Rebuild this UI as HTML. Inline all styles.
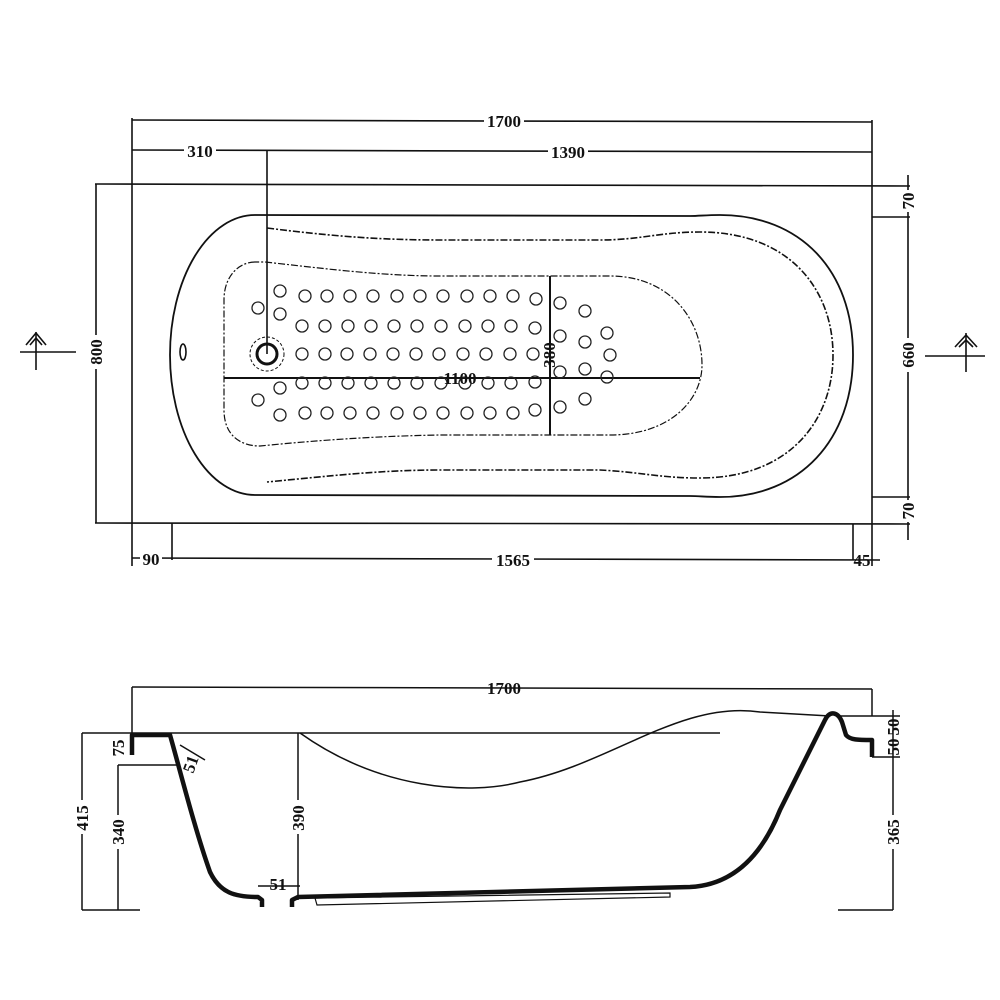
<!DOCTYPE html>
<html><head><meta charset="utf-8"><style>
html,body{margin:0;padding:0;background:#fff}
svg{display:block}
text{font-family:"Liberation Serif",serif;font-size:17px;fill:#111;font-weight:bold}
</style></head><body>
<svg width="1000" height="1000" viewBox="0 0 1000 1000" xmlns="http://www.w3.org/2000/svg">
<g fill="none" stroke="#111" stroke-width="1.6">
<!-- plan outer rect -->
<line x1="95" y1="184" x2="910" y2="186"/>
<line x1="95" y1="523" x2="910" y2="524"/>
<line x1="132" y1="118" x2="132" y2="566"/>
<line x1="872" y1="120" x2="872" y2="566"/>
<line x1="96" y1="184" x2="96" y2="523"/>
<!-- top dims -->
<line x1="132" y1="120" x2="872" y2="122"/>
<line x1="132" y1="150" x2="872" y2="152"/>
<line x1="267" y1="150" x2="267" y2="354"/>
<!-- bottom dims -->
<line x1="132" y1="558" x2="880" y2="560"/>
<line x1="172" y1="523" x2="172" y2="560"/>
<line x1="853" y1="524" x2="853" y2="560"/>
<!-- right dims -->
<line x1="908" y1="175" x2="908" y2="540"/>
<line x1="872" y1="217" x2="910" y2="217"/>
<line x1="872" y1="497" x2="910" y2="497"/>
<!-- outer tub -->
<path d="M690 216 L255 215 A85 140 0 0 0 255 495 L690 496 C700 496 705 497 720 497 C800 497 853 440 853 355 C853 270 800 215 720 215 C705 215 700 216 690 216" stroke-width="1.8"/>
<!-- inner dashed -->
<path d="M267 228 C330 236 380 240 440 240 L600 240 C640 240 660 232 700 232 C790 232 833 290 833 355 C833 420 790 478 700 478 C660 478 640 472 600 470 L440 470 C380 470 330 476 267 482" stroke-dasharray="7 2 2 2"/>
<!-- mat -->
<path d="M255 262 C240 262 224 275 224 300 L224 410 C224 435 240 446 260 446 C320 440 380 436 440 435 L610 435 C670 435 702 400 702 365 C702 320 670 276 610 276 L440 276 C380 276 320 268 265 262 Z" stroke-dasharray="7 2 2 2" stroke-width="1.2"/>
<line x1="224" y1="378" x2="700" y2="378" stroke-width="2"/>
<line x1="550" y1="276" x2="550" y2="435" stroke-width="2"/>
<!-- drain -->
<circle cx="267" cy="354" r="10" stroke-width="3"/>
<circle cx="267" cy="354" r="17" stroke-dasharray="3 2" stroke-width="1"/>
<ellipse cx="183" cy="352" rx="3" ry="8"/>
<!-- section arrows -->
<line x1="20" y1="352" x2="76" y2="352"/>
<line x1="36" y1="332" x2="36" y2="370"/>
<path d="M26 345 L36 333 L46 345 M30 345 L36 338 L42 345"/>
<line x1="925" y1="356" x2="985" y2="356"/>
<line x1="966" y1="333" x2="966" y2="372"/>
<path d="M955 347 L966 335 L977 347 M959 347 L966 340 L973 347"/>
</g>
<!-- dots -->
<g fill="none" stroke="#222" stroke-width="1.3" id="dots">
<circle cx="305" cy="296" r="6"/><circle cx="327" cy="296" r="6"/><circle cx="350" cy="296" r="6"/><circle cx="373" cy="296" r="6"/><circle cx="397" cy="296" r="6"/><circle cx="420" cy="296" r="6"/><circle cx="443" cy="296" r="6"/><circle cx="467" cy="296" r="6"/><circle cx="490" cy="296" r="6"/><circle cx="513" cy="296" r="6"/><circle cx="536" cy="299" r="6"/>
<circle cx="302" cy="326" r="6"/><circle cx="325" cy="326" r="6"/><circle cx="348" cy="326" r="6"/><circle cx="371" cy="326" r="6"/><circle cx="394" cy="326" r="6"/><circle cx="417" cy="326" r="6"/><circle cx="441" cy="326" r="6"/><circle cx="465" cy="326" r="6"/><circle cx="488" cy="326" r="6"/><circle cx="511" cy="326" r="6"/><circle cx="535" cy="328" r="6"/>
<circle cx="302" cy="354" r="6"/><circle cx="325" cy="354" r="6"/><circle cx="347" cy="354" r="6"/><circle cx="370" cy="354" r="6"/><circle cx="393" cy="354" r="6"/><circle cx="416" cy="354" r="6"/><circle cx="439" cy="354" r="6"/><circle cx="463" cy="354" r="6"/><circle cx="486" cy="354" r="6"/><circle cx="510" cy="354" r="6"/><circle cx="533" cy="354" r="6"/>
<circle cx="302" cy="383" r="6"/><circle cx="325" cy="383" r="6"/><circle cx="348" cy="383" r="6"/><circle cx="371" cy="383" r="6"/><circle cx="394" cy="383" r="6"/><circle cx="417" cy="383" r="6"/><circle cx="441" cy="383" r="6"/><circle cx="465" cy="383" r="6"/><circle cx="488" cy="383" r="6"/><circle cx="511" cy="383" r="6"/><circle cx="535" cy="382" r="6"/>
<circle cx="305" cy="413" r="6"/><circle cx="327" cy="413" r="6"/><circle cx="350" cy="413" r="6"/><circle cx="373" cy="413" r="6"/><circle cx="397" cy="413" r="6"/><circle cx="420" cy="413" r="6"/><circle cx="443" cy="413" r="6"/><circle cx="467" cy="413" r="6"/><circle cx="490" cy="413" r="6"/><circle cx="513" cy="413" r="6"/><circle cx="535" cy="410" r="6"/>
<circle cx="258" cy="308" r="6"/><circle cx="280" cy="291" r="6"/><circle cx="280" cy="314" r="6"/><circle cx="258" cy="400" r="6"/><circle cx="280" cy="388" r="6"/><circle cx="280" cy="415" r="6"/>
<circle cx="560" cy="303" r="6"/><circle cx="585" cy="311" r="6"/><circle cx="560" cy="336" r="6"/><circle cx="585" cy="342" r="6"/><circle cx="607" cy="333" r="6"/><circle cx="610" cy="355" r="6"/><circle cx="560" cy="372" r="6"/><circle cx="585" cy="369" r="6"/><circle cx="607" cy="377" r="6"/><circle cx="560" cy="407" r="6"/><circle cx="585" cy="399" r="6"/>
</g>
<!-- plan labels -->
<g>
<rect x="484" y="112" width="40" height="18" fill="#fff"/><text x="504" y="127" text-anchor="middle">1700</text>
<rect x="184" y="142" width="32" height="18" fill="#fff"/><text x="200" y="157" text-anchor="middle">310</text>
<rect x="548" y="142" width="40" height="18" fill="#fff"/><text x="568" y="158" text-anchor="middle">1390</text>
<rect x="140" y="550" width="22" height="18" fill="#fff"/><text x="151" y="565" text-anchor="middle">90</text>
<rect x="492" y="550" width="42" height="18" fill="#fff"/><text x="513" y="566" text-anchor="middle">1565</text>
<text x="862" y="566" text-anchor="middle">45</text>
<text x="460" y="384" text-anchor="middle">1100</text>
<text transform="translate(555,355) rotate(-90)" text-anchor="middle">380</text>
<rect x="87" y="335" width="18" height="34" fill="#fff"/><text transform="translate(102,352) rotate(-90)" text-anchor="middle">800</text>
<rect x="899" y="338" width="18" height="34" fill="#fff"/><text transform="translate(914,355) rotate(-90)" text-anchor="middle">660</text>
<rect x="899" y="190" width="18" height="22" fill="#fff"/><text transform="translate(914,201) rotate(-90)" text-anchor="middle">70</text>
<rect x="899" y="500" width="18" height="22" fill="#fff"/><text transform="translate(914,511) rotate(-90)" text-anchor="middle">70</text>
</g>
<!-- side view -->
<g fill="none" stroke="#111" stroke-width="1.5">
<line x1="132" y1="687" x2="872" y2="689"/>
<line x1="132" y1="687" x2="132" y2="733"/>
<line x1="872" y1="689" x2="872" y2="716"/>
<line x1="82" y1="733" x2="720" y2="733"/>
<path d="M300 733 C380 790 470 795 520 782 C610 765 680 700 760 712 L830 716"/>
<line x1="82" y1="733" x2="82" y2="910"/>
<line x1="82" y1="910" x2="140" y2="910"/>
<line x1="118" y1="765" x2="118" y2="910"/>
<line x1="118" y1="765" x2="180" y2="765"/>
<line x1="298" y1="733" x2="298" y2="900"/>
<line x1="893" y1="710" x2="893" y2="910"/>
<line x1="838" y1="910" x2="893" y2="910"/>
<line x1="838" y1="716" x2="900" y2="716"/>
<line x1="872" y1="757" x2="900" y2="757"/>
<line x1="180" y1="745" x2="205" y2="760"/>
<line x1="258" y1="886" x2="300" y2="886"/>
<path d="M315 898 L670 893 L670 897 L317 905 Z" stroke-width="1.2"/>
<path d="M132 755 L132 735 L170 735 C180 770 195 830 210 872 C220 893 235 897 258 897 L262 900 L262 907 M292 907 L292 900 L298 897 L690 887 C730 885 760 860 780 810 L825 720 C830 710 838 712 842 722 L846 735 C850 740 858 740 872 740 L872 757" stroke-width="4.5" stroke-linejoin="round"/>
</g>
<g>
<text x="504" y="694" text-anchor="middle">1700</text>
<rect x="73" y="800" width="18" height="34" fill="#fff"/><text transform="translate(88,818) rotate(-90)" text-anchor="middle">415</text>
<rect x="109" y="815" width="18" height="34" fill="#fff"/><text transform="translate(124,832) rotate(-90)" text-anchor="middle">340</text>
<rect x="109" y="738" width="18" height="22" fill="#fff"/><text transform="translate(124,748) rotate(-90)" text-anchor="middle">75</text>
<rect x="289" y="800" width="18" height="34" fill="#fff"/><text transform="translate(304,818) rotate(-90)" text-anchor="middle">390</text>
<rect x="884" y="815" width="18" height="34" fill="#fff"/><text transform="translate(899,832) rotate(-90)" text-anchor="middle">365</text>
<text transform="translate(899,727) rotate(-90)" text-anchor="middle">50</text>
<text transform="translate(899,747) rotate(-90)" text-anchor="middle">50</text>
<text transform="translate(196,766) rotate(-70)" text-anchor="middle">51</text>
<text x="278" y="890" text-anchor="middle">51</text>
</g>
</svg>
</body></html>
